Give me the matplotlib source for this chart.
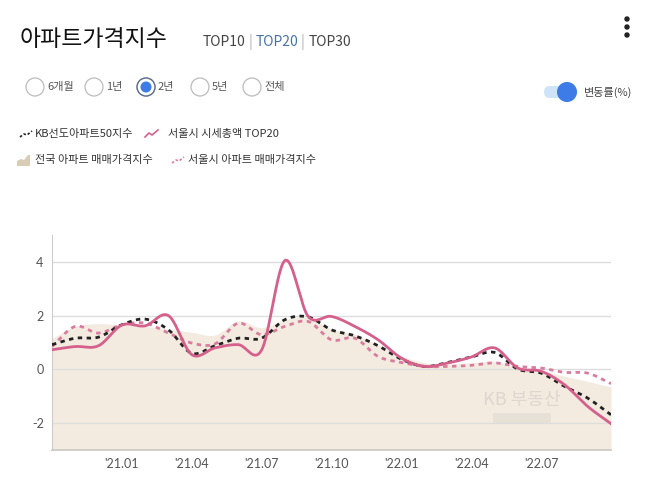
import numpy as np
import matplotlib
matplotlib.use('Agg')
import matplotlib.pyplot as plt
from matplotlib.patches import Circle, FancyBboxPatch, Polygon

plt.rcParams['font.family'] = ['Noto Sans CJK KR', 'DejaVu Sans']

# monthly change rate (%), 2020.10 ~ 2022.10
months = np.arange(25)
tick_pos = [3, 6, 9, 12, 15, 18, 21]
tick_labels = ["'21.01", "'21.04", "'21.07", "'21.10", "'22.01", "'22.04", "'22.07"]

kb50 = [0.92, 1.16, 1.20, 1.66, 1.87, 1.47, 0.60, 0.88, 1.16, 1.16, 1.85, 1.95, 1.47,
        1.25, 0.88, 0.38, 0.11, 0.26, 0.46, 0.63, 0.01, -0.14, -0.63, -1.07, -1.69]
top20 = [0.73, 0.85, 0.88, 1.65, 1.62, 2.0, 0.55, 0.80, 0.92, 0.72, 4.05, 1.97, 1.97,
         1.60, 1.10, 0.42, 0.11, 0.24, 0.46, 0.80, 0.05, -0.07, -0.57, -1.38, -2.02]
seoul = [0.85, 1.60, 1.35, 1.66, 1.72, 1.35, 0.98, 0.95, 1.72, 1.29, 1.60, 1.78, 1.10,
         1.16, 0.48, 0.26, 0.11, 0.11, 0.15, 0.24, 0.11, 0.05, -0.11, -0.14, -0.53]
national = [1.15, 1.60, 1.70, 1.65, 1.60, 1.50, 1.38, 1.28, 1.80, 1.55, 1.85, 1.92, 1.50,
            1.30, 0.90, 0.50, 0.25, 0.20, 0.25, 0.30, 0.10, -0.05, -0.25, -0.45, -0.65]


def smooth(x, y, n=20):
    # catmull-rom curve through the points, only for drawing
    x = np.asarray(x, float)
    y = np.asarray(y, float)
    px = np.concatenate([[2 * x[0] - x[1]], x, [2 * x[-1] - x[-2]]])
    py = np.concatenate([[2 * y[0] - y[1]], y, [2 * y[-1] - y[-2]]])
    xs, ys = [], []
    t = np.linspace(0, 1, n, endpoint=False)
    for i in range(1, len(px) - 2):
        for arr, out in ((px, xs), (py, ys)):
            p0, p1, p2, p3 = arr[i - 1], arr[i], arr[i + 1], arr[i + 2]
            out.extend(0.5 * (2 * p1 + (-p0 + p2) * t + (2 * p0 - 5 * p1 + 4 * p2 - p3) * t ** 2
                              + (-p0 + 3 * p1 - 3 * p2 + p3) * t ** 3))
    xs.append(x[-1])
    ys.append(y[-1])
    return np.array(xs), np.array(ys)


fig = plt.figure(figsize=(6.58, 4.84), dpi=100)
fig.patch.set_facecolor('white')

ax = fig.add_axes([0.079, 0.0702, 0.8496, 0.4443])
ax.set_facecolor('none')

sx, sy = smooth(months, national)
ax.fill_between(sx, sy, -3, color='#F3EBE0', lw=0, zorder=1)

sx, sy = smooth(months, seoul)
ax.plot(sx, sy, color='#D97C9E', lw=2.0, dashes=(1.6, 1.6), zorder=3)
sx, sy = smooth(months, kb50)
ax.plot(sx, sy, color='#222222', lw=2.0, dashes=(1.6, 1.6), zorder=4)
sx, sy = smooth(months, top20)
ax.plot(sx, sy, color='#D5608C', lw=2.0, zorder=5)

ax.set_xlim(0, 24)
ax.set_ylim(-3, 5)
ax.set_yticks([-2, 0, 2, 4])
ax.set_yticklabels(['-2', '0', '2', '4'], family='Lato')
ax.set_xticks(tick_pos)
ax.set_xticklabels(tick_labels, family='Lato')
ax.tick_params(length=0, labelsize=9, labelcolor='#555555')
ax.tick_params(axis='y', pad=6)
ax.tick_params(axis='x', pad=6)
for v in [-2, 0, 2, 4]:
    ax.axhline(v, color='#dddddd', lw=1, zorder=2)
for s in ['top', 'right']:
    ax.spines[s].set_visible(False)
ax.spines['left'].set_color('#cccccc')
ax.spines['bottom'].set_color('#c8c8c8')
ax.spines['bottom'].set_linewidth(1.2)

# overlay in pixel coordinates for the page widgets
ov = fig.add_axes([0, 0, 1, 1], zorder=10)
ov.set_xlim(0, 658)
ov.set_ylim(484, 0)
ov.axis('off')
ov.patch.set_alpha(0)

ov.text(20, 40, '아파트가격지수', fontsize=16.5, color='#111111', va='center', ha='left')
x0 = 203
for txt, col in [('TOP10', '#444444'), (' | ', '#aaaaaa'), ('TOP20', '#4A72A8'),
                 (' | ', '#aaaaaa'), ('TOP30', '#444444')]:
    t = ov.text(x0, 42, txt, fontsize=10, color=col, va='center', ha='left')
    fig.canvas.draw()
    bb = t.get_window_extent()
    x0 += bb.width

# three dots menu
for yy in [19, 27, 35]:
    ov.add_patch(Circle((627, yy), 2, color='#222222'))

# period radio buttons
radio_x = [35, 94, 146, 200, 252]
radio_labels = ['6개월', '1년', '2년', '5년', '전체']
for cx, lab in zip(radio_x, radio_labels):
    ov.add_patch(Circle((cx, 87), 9, facecolor='white', edgecolor='#bbbbbb', lw=0.9))
    ov.text(cx + 12, 87, lab, fontsize=8, color='#555555', va='center', ha='left')
ov.add_patch(Circle((146, 87), 9, facecolor='white', edgecolor='#5a6e8c', lw=1.0))
ov.add_patch(Circle((146, 87), 5.5, facecolor='#3D7BE6', edgecolor='none'))

# toggle
ov.add_patch(FancyBboxPatch((544, 86), 26, 12, boxstyle='round,pad=0,rounding_size=6',
                            facecolor='#CFE4F7', edgecolor='none'))
ov.add_patch(Circle((567, 92), 10, facecolor='#3D7BE6', edgecolor='none'))
ov.text(584, 92, '변동률(%)', fontsize=8, color='#444444', va='center', ha='left')

# legend
def dash_icon(x, y, col):
    ov.plot([x, x + 4, x + 7, x + 12], [y + 3, y, y + 1, y - 3], color=col, lw=1.2,
            dashes=(1.5, 1.2))

dash_icon(20, 134, '#222222')
ov.text(35, 134, 'KB선도아파트50지수', fontsize=8, color='#333333', va='center', ha='left')
ov.plot([145, 149, 152, 158], [137, 133, 135, 130], color='#D5608C', lw=1.2)
ov.text(168, 134, '서울시 시세총액 TOP20', fontsize=8, color='#333333', va='center', ha='left')
ov.add_patch(Polygon([[17, 166], [17, 161], [21, 159], [24, 160], [28, 155], [30, 155], [30, 166]],
                     facecolor='#D8CCB4', edgecolor='none'))
ov.text(35, 160, '전국 아파트 매매가격지수', fontsize=8, color='#333333', va='center', ha='left')
dash_icon(172, 160, '#D97C9E')
ov.text(188, 160, '서울시 아파트 매매가격지수', fontsize=8, color='#333333', va='center', ha='left')

# watermark
ov.text(522, 400, 'KB 부동산', fontsize=13, color='#ddd5cb', alpha=0.9, va='center', ha='center')
ov.add_patch(FancyBboxPatch((493, 413), 58, 10, boxstyle='round,pad=0,rounding_size=2',
                            facecolor='#e6dfd6', edgecolor='none', alpha=0.9))

fig.savefig('out.png', dpi=100)
